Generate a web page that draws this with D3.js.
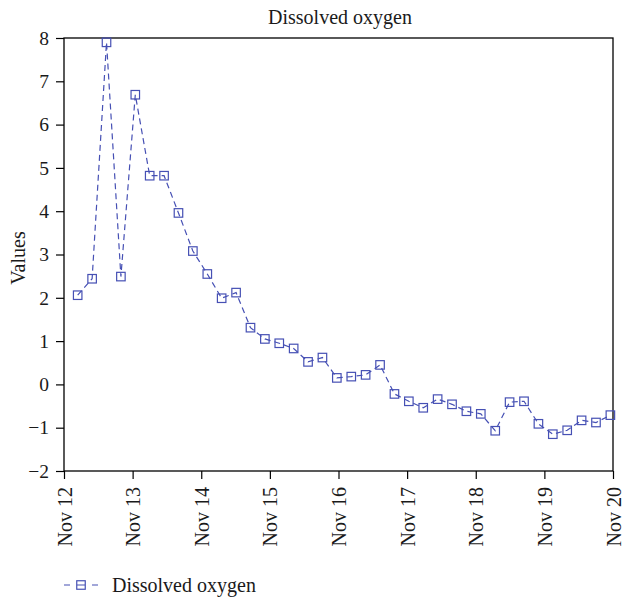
<!DOCTYPE html>
<html><head><meta charset="utf-8">
<script src="https://cdn.jsdelivr.net/npm/d3@7"></script>
<style>
body{margin:0;background:#fff}
svg{display:block}
text{font-family:"Liberation Serif","Times New Roman",serif;fill:#1a1a1a}
</style>
</head><body><svg id="c" width="622" height="599"></svg>
<script>
const chartTitle = "Dissolved oxygen";
const seriesName = "Dissolved oxygen";
const yAxisLabel = "Values";

const times = [
  "2019-11-12 04:47","2019-11-12 09:50","2019-11-12 14:52","2019-11-12 19:54",
  "2019-11-13 00:56","2019-11-13 05:58","2019-11-13 11:00","2019-11-13 16:02","2019-11-13 21:04",
  "2019-11-14 02:07","2019-11-14 07:08","2019-11-14 12:11","2019-11-14 17:13","2019-11-14 22:15",
  "2019-11-15 03:17","2019-11-15 08:19","2019-11-15 13:21","2019-11-15 18:23","2019-11-15 23:25",
  "2019-11-16 04:28","2019-11-16 09:29","2019-11-16 14:32","2019-11-16 19:34",
  "2019-11-17 00:36","2019-11-17 05:38","2019-11-17 10:40","2019-11-17 15:42","2019-11-17 20:44",
  "2019-11-18 01:46","2019-11-18 06:49","2019-11-18 11:50","2019-11-18 16:53","2019-11-18 21:55",
  "2019-11-19 02:57","2019-11-19 07:59","2019-11-19 13:01","2019-11-19 18:03","2019-11-19 23:05"
];
const values = [
  2.06, 2.44, 7.90, 2.49, 6.69, 4.82, 4.82, 3.96, 3.08,
  2.55, 1.99, 2.12, 1.31, 1.05, 0.95, 0.83, 0.52, 0.62, 0.15,
  0.18, 0.22, 0.45, -0.22, -0.39, -0.54, -0.34, -0.46, -0.62, -0.68,
  -1.07, -0.41, -0.39, -0.91, -1.15, -1.06, -0.83, -0.88, -0.71
];
const yTicks = [-2, -1, 0, 1, 2, 3, 4, 5, 6, 7, 8];
const xTickDates = ["2019-11-12","2019-11-13","2019-11-14","2019-11-15","2019-11-16","2019-11-17","2019-11-18","2019-11-19","2019-11-20"];
const xTickLabels = ["Nov 12","Nov 13","Nov 14","Nov 15","Nov 16","Nov 17","Nov 18","Nov 19","Nov 20"];

const color = "#4650b4";
const parseT = d3.timeParse("%Y-%m-%d %H:%M");
const parseD = d3.timeParse("%Y-%m-%d");
const data = times.map((t, i) => ({t: parseT(t), v: values[i]}));
const tickDates = xTickDates.map(parseD);

const svg = d3.select("#c");
const L = 64, R = 613, T = 38, B = 471;

const x = d3.scaleTime().domain([tickDates[0], tickDates[tickDates.length - 1]]).range([L, R]);
const y = d3.scaleLinear().domain([-2, 8]).range([B, T]);

// title
svg.append("text").attr("x", 340).attr("y", 24).attr("text-anchor", "middle")
  .style("font-size", "20px").text(chartTitle);

// y axis
const gy = svg.append("g").attr("transform", `translate(${L},0)`)
  .call(d3.axisLeft(y).tickValues(yTicks).tickSize(8).tickPadding(7).tickFormat(d3.format("d")));
gy.select(".domain").remove();
gy.selectAll(".tick line").attr("stroke", "#000").attr("stroke-width", 1.2);
gy.selectAll(".tick text").style("font-size", "19.5px").attr("fill", "#1a1a1a");

// x axis
const gx = svg.append("g").attr("transform", `translate(0,${B})`)
  .call(d3.axisBottom(x).tickValues(tickDates).tickSize(8).tickFormat((d, i) => xTickLabels[i]));
gx.select(".domain").remove();
gx.selectAll(".tick line").attr("stroke", "#000").attr("stroke-width", 1.2);
gx.selectAll(".tick text")
  .attr("transform", "rotate(-90)")
  .attr("text-anchor", "end")
  .attr("x", -16).attr("y", 0).attr("dy", "0.35em")
  .style("font-size", "20px").attr("fill", "#1a1a1a");

// y label
svg.append("text").attr("transform", `translate(25,258) rotate(-90)`)
  .attr("text-anchor", "middle").style("font-size", "20px").text(yAxisLabel);

// frame
svg.append("rect").attr("x", L).attr("y", T).attr("width", R - L).attr("height", B - T)
  .attr("fill", "none").attr("stroke", "#000").attr("stroke-width", 1.3);

// line
const line = d3.line().x(d => x(d.t)).y(d => y(d.v));
svg.append("path").datum(data).attr("d", line)
  .attr("fill", "none").attr("stroke", color).attr("stroke-width", 1.2)
  .attr("stroke-dasharray", "6,4");

const ms = 8.5;
svg.append("g").selectAll("rect").data(data).join("rect")
  .attr("x", d => x(d.t) - ms / 2).attr("y", d => y(d.v) - ms / 2)
  .attr("width", ms).attr("height", ms)
  .attr("fill", "none").attr("stroke", color).attr("stroke-width", 1.2);

// legend
const lg = svg.append("g").attr("transform", "translate(0,585)");
lg.append("line").attr("x1", 64).attr("x2", 98).attr("y1", 0).attr("y2", 0)
  .attr("stroke", color).attr("stroke-width", 1.2).attr("stroke-dasharray", "6,7,8,7,6");
lg.append("rect").attr("x", 81 - ms / 2).attr("y", -ms / 2).attr("width", ms).attr("height", ms)
  .attr("fill", "none").attr("stroke", color).attr("stroke-width", 1.2);
lg.append("text").attr("x", 112).attr("y", 0).attr("dy", "0.35em")
  .style("font-size", "20px").text(seriesName);
</script>
</body></html>
